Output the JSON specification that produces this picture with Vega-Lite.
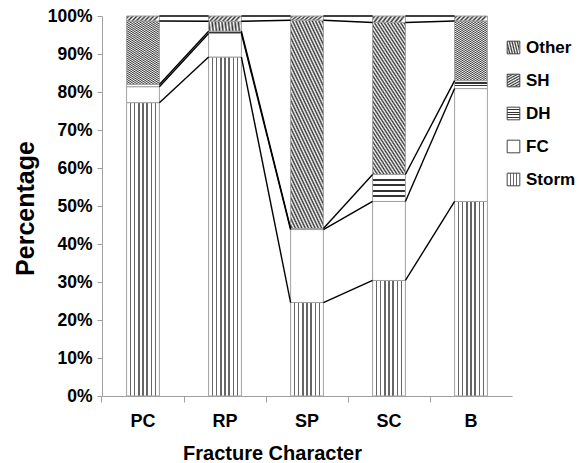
{
  "$schema": "https://vega.github.io/schema/vega-lite/v6.json",
  "width": 410,
  "height": 380,
  "autosize": "none",
  "padding": {"left": 102, "top": 16, "right": 67, "bottom": 67},
  "config": {
    "view": {"stroke": null},
    "font": "Liberation Sans",
    "axisY": {
      "tickCount": 11,
      "labelOverlap": false,
      "labelSeparation": 0,
      "labelFontSize": 17.5,
      "labelFontWeight": "bold",
      "labelColor": "black",
      "labelPadding": 5,
      "tickSize": 5,
      "tickColor": "#a0a0a0",
      "domainColor": "#a0a0a0",
      "grid": false
    }
  },
  "data": {
    "values": [
      {"cat": "PC", "series": "Storm", "value": 77.2},
      {"cat": "PC", "series": "FC", "value": 4.2},
      {"cat": "PC", "series": "DH", "value": 0.6},
      {"cat": "PC", "series": "SH", "value": 16.7},
      {"cat": "PC", "series": "Other", "value": 1.3},
      {"cat": "RP", "series": "Storm", "value": 89.2},
      {"cat": "RP", "series": "FC", "value": 6.2},
      {"cat": "RP", "series": "DH", "value": 0.6},
      {"cat": "RP", "series": "SH", "value": 2.6},
      {"cat": "RP", "series": "Other", "value": 1.4},
      {"cat": "SP", "series": "Storm", "value": 24.6},
      {"cat": "SP", "series": "FC", "value": 19.2},
      {"cat": "SP", "series": "DH", "value": 0.3},
      {"cat": "SP", "series": "SH", "value": 54.8},
      {"cat": "SP", "series": "Other", "value": 1.1},
      {"cat": "SC", "series": "Storm", "value": 30.4},
      {"cat": "SC", "series": "FC", "value": 20.8},
      {"cat": "SC", "series": "DH", "value": 7.1},
      {"cat": "SC", "series": "SH", "value": 40.0},
      {"cat": "SC", "series": "Other", "value": 1.7},
      {"cat": "B", "series": "Storm", "value": 51.2},
      {"cat": "B", "series": "FC", "value": 29.7},
      {"cat": "B", "series": "DH", "value": 2.1},
      {"cat": "B", "series": "SH", "value": 15.7},
      {"cat": "B", "series": "Other", "value": 1.3}
    ]
  },
  "transform": [
    {"calculate": "indexof(['Storm','FC','DH','SH','Other'], datum.series)", "as": "so"},
    {"calculate": "indexof(['PC','RP','SP','SC','B'], datum.cat)", "as": "co"},
    {"stack": "value", "groupby": ["cat"], "sort": [{"field": "so", "order": "ascending"}], "as": ["y0", "y1"]}
  ],
  "layer": [
    {
      "mark": {"type": "bar", "stroke": "#a0a0a0", "strokeWidth": 1},
      "encoding": {
        "x": {
          "field": "cat",
          "type": "nominal",
          "scale": {"domain": ["PC", "RP", "SP", "SC", "B"], "paddingInner": 0.6, "paddingOuter": 0.3},
          "axis": {
            "bandPosition": -0.75,
            "labelAngle": 0,
            "labelFontSize": 18,
            "labelFontWeight": "bold",
            "labelColor": "black",
            "labelPadding": 10,
            "tickSize": 6,
            "tickColor": "#a0a0a0",
            "domainColor": "#a0a0a0",
            "title": "Fracture Character",
            "titleFontSize": 20,
            "titleFontWeight": "bold",
            "titleColor": "black",
            "titleX": 170,
            "titleY": 63,
            "titleAlign": "center",
            "titleBaseline": "alphabetic"
          }
        },
        "y": {
          "field": "y0",
          "type": "quantitative",
          "stack": null,
          "scale": {"domain": [0, 100], "nice": false},
          "axis": {
            "tickCount": 11,
            "labelOverlap": false,
            "labelSeparation": 0,
            "labelExpr": "datum.value + '%'",
            "title": "Percentage",
            "titleFontSize": 25,
            "titleFontWeight": "bold",
            "titleColor": "black",
            "titleX": -69,
            "titleY": 192,
            "titleAlign": "center",
            "titleBaseline": "alphabetic",
            "titleAngle": 270
          }
        },
        "y2": {"field": "y1"},
        "color": {
          "field": "series",
          "type": "nominal",
          "scale": {
            "domain": ["Other", "SH", "DH", "FC", "Storm"],
            "range": [
              {"expr": "{gradient:'linear',x1:0,y1:0,x2:1,y2:0.15,stops:[{offset:0,color:'#fff'},{offset:0.0625,color:'#333'},{offset:0.125,color:'#fff'},{offset:0.1875,color:'#333'},{offset:0.25,color:'#fff'},{offset:0.3125,color:'#333'},{offset:0.375,color:'#fff'},{offset:0.4375,color:'#333'},{offset:0.5,color:'#fff'},{offset:0.5625,color:'#333'},{offset:0.625,color:'#fff'},{offset:0.6875,color:'#333'},{offset:0.75,color:'#fff'},{offset:0.8125,color:'#333'},{offset:0.875,color:'#fff'},{offset:0.9375,color:'#333'},{offset:1,color:'#fff'}]}"},
              {"expr": "{gradient:'linear',x1:0,y1:1,x2:1,y2:-2,stops:[{offset:0,color:'#fff'},{offset:0.005,color:'#333'},{offset:0.01,color:'#fff'},{offset:0.015,color:'#333'},{offset:0.02,color:'#fff'},{offset:0.025,color:'#333'},{offset:0.03,color:'#fff'},{offset:0.035,color:'#333'},{offset:0.04,color:'#fff'},{offset:0.045,color:'#333'},{offset:0.05,color:'#fff'},{offset:0.055,color:'#333'},{offset:0.06,color:'#fff'},{offset:0.065,color:'#333'},{offset:0.07,color:'#fff'},{offset:0.075,color:'#333'},{offset:0.08,color:'#fff'},{offset:0.085,color:'#333'},{offset:0.09,color:'#fff'},{offset:0.095,color:'#333'},{offset:0.1,color:'#fff'},{offset:0.105,color:'#333'},{offset:0.11,color:'#fff'},{offset:0.115,color:'#333'},{offset:0.12,color:'#fff'},{offset:0.125,color:'#333'},{offset:0.13,color:'#fff'},{offset:0.135,color:'#333'},{offset:0.14,color:'#fff'},{offset:0.145,color:'#333'},{offset:0.15,color:'#fff'},{offset:0.155,color:'#333'},{offset:0.16,color:'#fff'},{offset:0.165,color:'#333'},{offset:0.17,color:'#fff'},{offset:0.175,color:'#333'},{offset:0.18,color:'#fff'},{offset:0.185,color:'#333'},{offset:0.19,color:'#fff'},{offset:0.195,color:'#333'},{offset:0.2,color:'#fff'},{offset:0.205,color:'#333'},{offset:0.21,color:'#fff'},{offset:0.215,color:'#333'},{offset:0.22,color:'#fff'},{offset:0.225,color:'#333'},{offset:0.23,color:'#fff'},{offset:0.235,color:'#333'},{offset:0.24,color:'#fff'},{offset:0.245,color:'#333'},{offset:0.25,color:'#fff'},{offset:0.255,color:'#333'},{offset:0.26,color:'#fff'},{offset:0.265,color:'#333'},{offset:0.27,color:'#fff'},{offset:0.275,color:'#333'},{offset:0.28,color:'#fff'},{offset:0.285,color:'#333'},{offset:0.29,color:'#fff'},{offset:0.295,color:'#333'},{offset:0.3,color:'#fff'},{offset:0.305,color:'#333'},{offset:0.31,color:'#fff'},{offset:0.315,color:'#333'},{offset:0.32,color:'#fff'},{offset:0.325,color:'#333'},{offset:0.33,color:'#fff'},{offset:0.335,color:'#333'},{offset:0.34,color:'#fff'},{offset:0.345,color:'#333'},{offset:0.35,color:'#fff'},{offset:0.355,color:'#333'},{offset:0.36,color:'#fff'},{offset:0.365,color:'#333'},{offset:0.37,color:'#fff'},{offset:0.375,color:'#333'},{offset:0.38,color:'#fff'},{offset:0.385,color:'#333'},{offset:0.39,color:'#fff'},{offset:0.395,color:'#333'},{offset:0.4,color:'#fff'}]}"},
              {"expr": "{gradient:'linear',x1:0,y1:0,x2:0,y2:1,stops:[{offset:0,color:'#fff'},{offset:0.16,color:'#fff'},{offset:0.16,color:'#333'},{offset:0.24,color:'#333'},{offset:0.24,color:'#fff'},{offset:0.36,color:'#fff'},{offset:0.36,color:'#333'},{offset:0.44,color:'#333'},{offset:0.44,color:'#fff'},{offset:0.56,color:'#fff'},{offset:0.56,color:'#333'},{offset:0.64,color:'#333'},{offset:0.64,color:'#fff'},{offset:0.76,color:'#fff'},{offset:0.76,color:'#333'},{offset:0.84,color:'#333'},{offset:0.84,color:'#fff'},{offset:1,color:'#fff'}]}"},
              "#ffffff",
              {"expr": "{gradient:'linear',x1:0,y1:0,x2:1,y2:0,stops:[{offset:0,color:'#fff'},{offset:0.105,color:'#fff'},{offset:0.105,color:'#666'},{offset:0.145,color:'#666'},{offset:0.145,color:'#fff'},{offset:0.23,color:'#fff'},{offset:0.23,color:'#666'},{offset:0.27,color:'#666'},{offset:0.27,color:'#fff'},{offset:0.355,color:'#fff'},{offset:0.355,color:'#666'},{offset:0.395,color:'#666'},{offset:0.395,color:'#fff'},{offset:0.48,color:'#fff'},{offset:0.48,color:'#666'},{offset:0.52,color:'#666'},{offset:0.52,color:'#fff'},{offset:0.605,color:'#fff'},{offset:0.605,color:'#666'},{offset:0.645,color:'#666'},{offset:0.645,color:'#fff'},{offset:0.73,color:'#fff'},{offset:0.73,color:'#666'},{offset:0.77,color:'#666'},{offset:0.77,color:'#fff'},{offset:0.855,color:'#fff'},{offset:0.855,color:'#666'},{offset:0.895,color:'#666'},{offset:0.895,color:'#fff'},{offset:1,color:'#fff'}]}"}
            ]
          },
          "legend": {
            "orient": "none",
            "legendX": 403,
            "legendY": 23,
            "direction": "vertical",
            "title": null,
            "padding": 0,
            "symbolType": "square",
            "symbolSize": 160,
            "symbolStrokeColor": "#444",
            "symbolStrokeWidth": 1,
            "labelFontSize": 17,
            "labelFontWeight": "bold",
            "labelColor": "black",
            "labelOffset": 4,
            "rowPadding": 15
          }
        }
      }
    },
    {
      "transform": [
        {"window": [{"op": "lead", "field": "y1", "as": "ny"}, {"op": "lead", "field": "cat", "as": "ncat"}], "groupby": ["series"], "sort": [{"field": "co", "order": "ascending"}]},
        {"filter": "datum.ncat != null"}
      ],
      "mark": {"type": "rule", "color": "black", "strokeWidth": 1.4},
      "encoding": {
        "x": {"field": "cat", "type": "nominal", "bandPosition": 1},
        "x2": {"field": "ncat", "bandPosition": 0},
        "y": {
          "field": "y1",
          "type": "quantitative",
          "axis": {
            "tickCount": 11,
            "labelOverlap": false,
            "labelSeparation": 0,
            "labelExpr": "datum.value + '%'",
            "title": "Percentage",
            "titleFontSize": 25,
            "titleFontWeight": "bold",
            "titleColor": "black",
            "titleX": -69,
            "titleY": 192,
            "titleAlign": "center",
            "titleBaseline": "alphabetic",
            "titleAngle": 270
          }
        },
        "y2": {"field": "ny"}
      }
    }
  ]
}
